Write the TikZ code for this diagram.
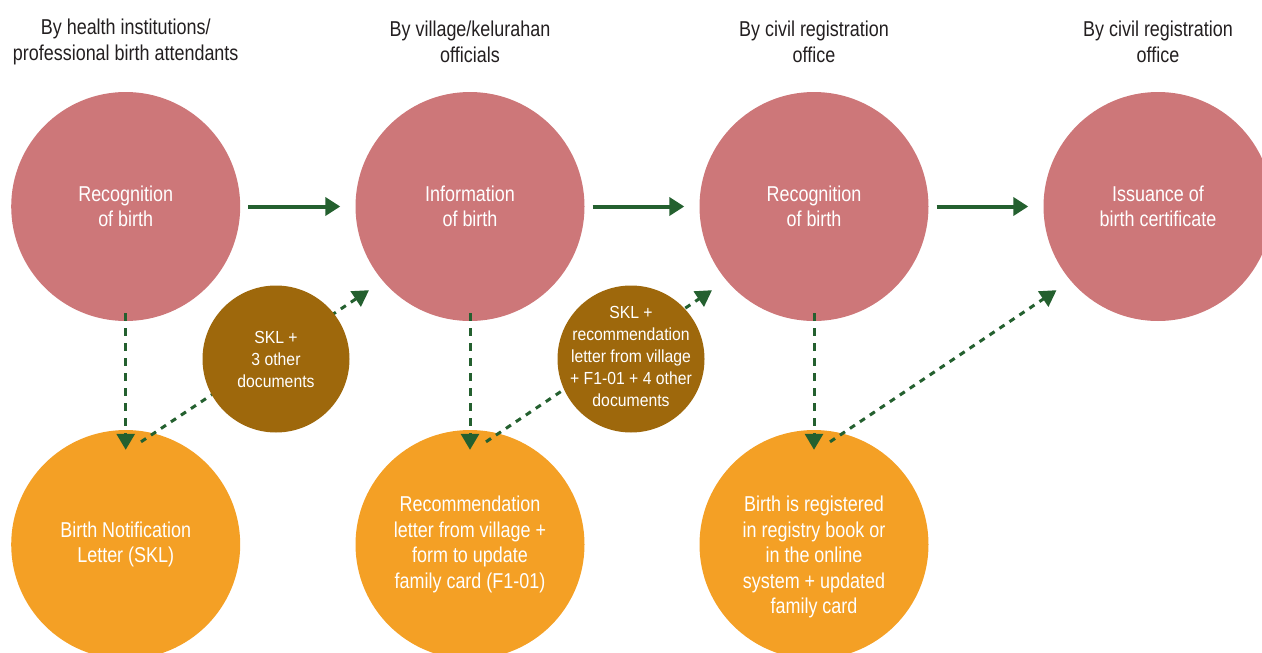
\documentclass[tikz,border=0pt]{standalone}
\usepackage{fontspec}
\setmainfont{Liberation Sans}[FakeStretch=0.835]
\newfontfamily\docsfont{Liberation Sans}[FakeStretch=0.9]
\usepackage{tikz}
\usetikzlibrary{arrows.meta,shapes}

\definecolor{stagepink}{HTML}{CD7779}
\definecolor{outorange}{HTML}{F4A025}
\definecolor{docbrown}{HTML}{9E680C}
\definecolor{linkgreen}{HTML}{24602F}
\definecolor{whogray}{HTML}{231F20}

\newcommand{\keepsize}[1]{\smash{\makebox[0pt]{\raisebox{-3bp}{\begin{tabular}{@{}c@{}}#1\end{tabular}}}}}

\tikzset{
  stage/.style={circle, fill=stagepink, minimum size=229bp, inner sep=0pt, text=white, align=center, font=\fontsize{21.5bp}{25.5bp}\selectfont},
  outcome/.style={stage, fill=outorange},
  docs/.style={circle, fill=docbrown, minimum size=147bp, inner sep=0pt, text=white, align=center, font=\docsfont\fontsize{17.5bp}{22bp}\selectfont},
  who/.style={align=center, text=whogray, font=\fontsize{21.5bp}{26bp}\selectfont},
  nextstep/.style={-{Triangle[length=15bp,width=18bp]}, line width=4bp, draw=linkgreen},
  issues/.style={-{Triangle[length=16bp,width=18bp]}, line width=3bp, draw=linkgreen, dash pattern=on 8bp off 7bp},
  handover/.style={-{Triangle[length=16bp,width=18bp]}, line width=3bp, draw=linkgreen, dash pattern=on 6bp off 6bp},
}

\begin{document}
\begin{tikzpicture}

\useasboundingbox (0bp,0bp) rectangle (1262bp,-653bp);

\node (who1) at (125.7bp,-42bp)[who] {By health institutions/\\professional birth attendants};
\node (who2) at (470bp,-42bp)[who] {By village/kelurahan\\officials};
\node (who3) at (814bp,-42bp)[who] {By civil registration\\office};
\node (who4) at (1158bp,-42bp)[who] {By civil registration\\office};

\node (S1) at (125.7bp,-206.5bp)[stage] {Recognition\\of birth};
\node (S2) at (470bp,-206.5bp)[stage] {Information\\of birth};
\node (S3) at (814bp,-206.5bp)[stage] {Recognition\\of birth};
\node (S4) at (1158bp,-206.5bp)[stage] {Issuance of\\birth certificate};

\node (O1) at (125.7bp,-544.5bp)[outcome] {Birth Notification\\Letter (SKL)};
\node (O2) at (470bp,-544.5bp)[outcome] {Recommendation\\letter from village +\\form to update\\family card (F1-01)};
\node (O3) at (814bp,-544.5bp)[outcome] {\raisebox{-13bp}[\height][\depth]{\begin{tabular}{@{}c@{}}Birth is registered\\in registry book or\\in the online\\system + updated\\family card\end{tabular}}};

% main sequence
\draw [nextstep] ([xshift=8bp]S1.east) -- ([xshift=-15bp]S2.west);
\draw [nextstep] ([xshift=8bp]S2.east) -- ([xshift=-15bp]S3.west);
\draw [nextstep] ([xshift=8bp]S3.east) -- ([xshift=-15bp]S4.west);

% documents issued
\draw [issues] ([yshift=8bp]S1.south) -- ([yshift=-20bp]O1.north);
\draw [issues] ([yshift=8bp]S2.south) -- ([yshift=-20bp]O2.north);
\draw [issues] ([yshift=8bp]S3.south) -- ([yshift=-20bp]O3.north);

% documents handed on
\draw [handover] ([xshift=15.3bp,yshift=-12bp]O1.north) -- ([xshift=-101bp,yshift=31bp]S2.south);
\draw [handover] ([xshift=16bp,yshift=-12bp]O2.north) -- ([xshift=-102bp,yshift=31bp]S3.south);
\draw [handover] ([xshift=16bp,yshift=-12bp]O3.north) -- ([xshift=-101.5bp,yshift=31bp]S4.south);

\node (D1) at (276bp,-359bp)[docs] {SKL +\\3 other\\documents};
\node (D2) at (631bp,-359bp)[docs] {\keepsize{SKL +\\recommendation\\letter from village\\+ F1-01 + 4 other\\documents}};

\end{tikzpicture}
\end{document}
